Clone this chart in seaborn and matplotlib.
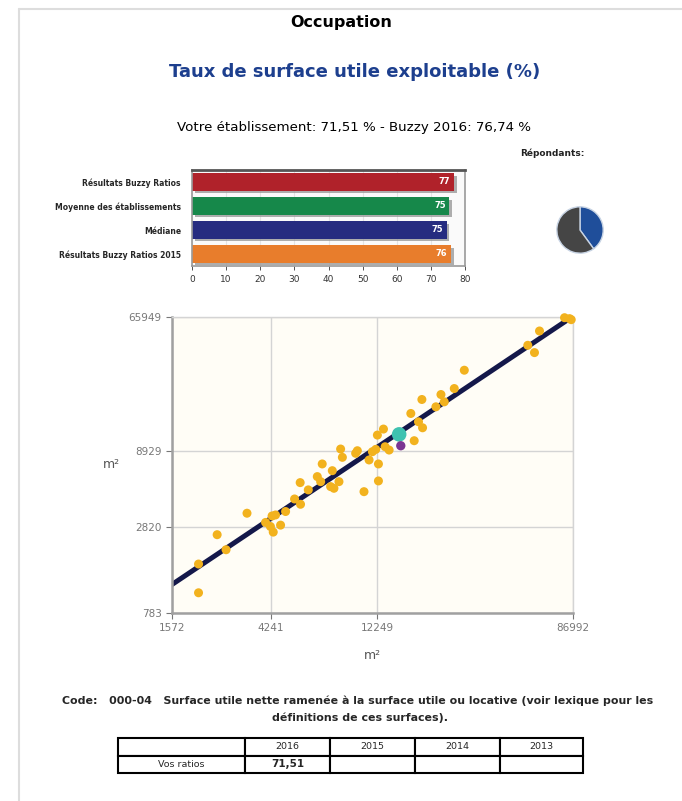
import matplotlib

matplotlib.use("Agg")
import matplotlib.patheffects as pe
import matplotlib.pyplot as plt
import numpy as np
import pandas as pd
import seaborn as sns
from matplotlib.lines import Line2D

# --- data ------------------------------------------------------------------
bar_labels = [
    "Résultats Buzzy Ratios",
    "Moyenne des établissements",
    "Médiane",
    "Résultats Buzzy Ratios 2015",
]
bar_values = [76.7, 75.4, 74.6, 75.9]
bar_value_labels = ["77", "75", "75", "76"]
bar_colors = ["#b0222a", "#16884a", "#262c80", "#e87d2c"]

pie_values = [40, 60]
pie_colors = ["#1f4e9a", "#454545"]

# surface utile ou locative (x) vs surface utile nette (y), m²
surface_locative = [
    2050, 2050, 2470, 2700, 3330, 4010, 4210, 4280, 4330, 4430,
    4660, 4900, 5360, 5670, 5690, 6150, 6730, 7070, 6960, 7690,
    7820, 7950, 8360, 8500, 8650, 9880, 10050, 10740, 11300, 11680,
    12080, 12280, 12410, 12410, 13050, 13270, 13810, 17160, 17750, 18530,
    19170, 19300, 22060, 23200, 23980, 26510, 29310, 55330, 59160, 62210,
    79930, 84040, 85450,
]
surface_utile = [
    1630, 1060, 2530, 2020, 3490, 3040, 2860, 3350, 2630, 3400,
    2920, 3580, 4320, 5520, 3990, 4950, 6040, 7300, 5600, 5200,
    6600, 5070, 5600, 9130, 8060, 8560, 8900, 4820, 7750, 8770,
    9080, 11250, 7300, 5660, 12310, 9450, 8990, 15550, 10340, 13730,
    19170, 12550, 17180, 20650, 18510, 22590, 29720, 43170, 38690, 53480,
    65260, 64340, 63370,
]
votre_x, votre_y = [15270], [11370]
other_x, other_y = [15520], [9590]
trend_x = [1572, 84000]
trend_y = [1200, 64400]

x_ticks = [1572, 4241, 12249, 86992]
y_ticks = [783, 2820, 8929, 65949]

table_header = ["", "2016", "2015", "2014", "2013"]
table_row = ["Vos ratios", "71,51", "", "", ""]

W, H = 682, 801


def fig_rect(left, top, right, bottom):
    # pixel box -> figure fraction rect
    return [left / W, 1 - bottom / H, (right - left) / W, (bottom - top) / H]


sns.set_theme(style="white")
plt.rcParams["font.family"] = ["DejaVu Sans"]

fig = plt.figure(figsize=(W / 100, H / 100), dpi=100)
fig.patch.set_facecolor("white")

# page frame
fig.add_artist(Line2D([19 / W, 19 / W], [0, 1 - 9 / H], color="#dddddd", lw=1.5))
fig.add_artist(Line2D([19 / W, 1], [1 - 9 / H, 1 - 9 / H], color="#dddddd", lw=1.5))

fig.text(341 / W, 1 - 23 / H, "Occupation", ha="center", va="center",
         fontsize=11.5, fontweight="bold", color="black")
fig.text(355 / W, 1 - 72 / H, "Taux de surface utile exploitable (%)",
         ha="center", va="center", fontsize=13, fontweight="bold", color="#1d3f8e")
fig.text(354 / W, 1 - 127 / H,
         "Votre établissement: 71,51 % - Buzzy 2016: 76,74 %",
         ha="center", va="center", fontsize=9.6, color="black")
fig.text(552 / W, 1 - 153 / H, "Répondants:", ha="center", va="center",
         fontsize=6.5, fontweight="bold", color="#222222")

# --- bar chart --------------------------------------------------------------
ax_bar = fig.add_axes(fig_rect(192, 170, 465, 266))
df_bar = pd.DataFrame({"label": bar_labels, "value": bar_values})
sns.barplot(data=df_bar, x="value", y="label", hue="label", palette=bar_colors,
            legend=False, orient="h", width=0.72, ax=ax_bar,
            edgecolor="none", saturation=1)
for patch in ax_bar.patches:
    patch.set_path_effects([
        pe.SimplePatchShadow(offset=(2, -2), shadow_rgbFace="#9a9a9a", alpha=0.8),
        pe.Normal(),
    ])
for container, lab in zip(ax_bar.containers, bar_value_labels):
    ax_bar.bar_label(container, labels=[lab], padding=-11, color="white",
                     fontsize=6, fontweight="bold")
ax_bar.set_xlim(0, 80)
ax_bar.set_xticks(np.arange(0, 81, 10))
ax_bar.set_xlabel("")
ax_bar.set_ylabel("")
ax_bar.xaxis.grid(True, color="#e4e4e4", lw=0.8)
ax_bar.set_axisbelow(True)
ax_bar.set_facecolor("#fafafa")
ax_bar.tick_params(axis="x", labelsize=6.5, colors="#333333", length=3, width=0.6,
                   direction="out", bottom=True)
ax_bar.tick_params(axis="y", labelsize=5.5, length=0, pad=8)
for lbl in ax_bar.get_yticklabels():
    lbl.set_fontweight("bold")
for side in ["left", "right", "bottom"]:
    ax_bar.spines[side].set_color("#9a9a9a")
    ax_bar.spines[side].set_linewidth(1.2)
ax_bar.spines["top"].set_color("#555555")
ax_bar.spines["top"].set_linewidth(2)

# --- respondents pie --------------------------------------------------------
ax_pie = fig.add_axes(fig_rect(551, 201, 609, 259))
ax_pie.pie(pie_values, colors=pie_colors, startangle=90, counterclock=False,
           wedgeprops={"edgecolor": "#c8d4e4", "linewidth": 1})
ax_pie.set_aspect("equal")

# --- scatter ----------------------------------------------------------------
ax = fig.add_axes(fig_rect(172, 317, 573, 613))
ax.set_facecolor("#fffdf6")
ax.set_xscale("log")
ax.set_yscale("log")
sns.lineplot(x=trend_x, y=trend_y, ax=ax, color="#14184a", lw=3.6,
             solid_capstyle="round", zorder=2)
sns.scatterplot(x=surface_locative, y=surface_utile, ax=ax, color="#f2b21e",
                s=42, edgecolor="none", zorder=3, clip_on=False)
sns.scatterplot(x=votre_x, y=votre_y, ax=ax, color="#3fc2b0", s=110,
                edgecolor="none", zorder=4)
sns.scatterplot(x=other_x, y=other_y, ax=ax, color="#7a3592", s=45,
                edgecolor="none", zorder=4)
ax.set_xlim(x_ticks[0], x_ticks[-1])
ax.set_ylim(y_ticks[0], y_ticks[-1])
ax.minorticks_off()
ax.set_xticks(x_ticks)
ax.set_xticklabels([str(v) for v in x_ticks])
ax.set_yticks(y_ticks)
ax.set_yticklabels([str(v) for v in y_ticks])
ax.grid(True, color="#d4d4d4", lw=1)
ax.set_axisbelow(True)
ax.tick_params(axis="both", labelsize=7.5, colors="#777777", length=4,
               width=0.8, direction="out", left=True, bottom=True)
for side in ["left", "bottom"]:
    ax.spines[side].set_color("#a0a0a0")
    ax.spines[side].set_linewidth(1.8)
for side in ["top", "right"]:
    ax.spines[side].set_color("#d4d4d4")
    ax.spines[side].set_linewidth(1)
ax.set_xlabel("m²", fontsize=9, color="#555555", labelpad=11)
ax.set_ylabel("m²", fontsize=9, color="#555555", rotation=0, labelpad=6,
              va="center", ha="right")

# --- footer -----------------------------------------------------------------
fig.text(358 / W, 1 - 701 / H,
         "Code:   000-04   Surface utile nette ramenée à la surface utile ou locative (voir lexique pour les",
         ha="center", va="center", fontsize=7.9, fontweight="bold")
fig.text(360 / W, 1 - 718 / H, "définitions de ces surfaces).",
         ha="center", va="center", fontsize=7.9, fontweight="bold")

ax_tab = fig.add_axes(fig_rect(118, 738, 583, 773))
ax_tab.axis("off")
col_px = [127, 85, 85, 85, 83]
tab = ax_tab.table(cellText=[table_header, table_row], cellLoc="center",
                   colWidths=[c / sum(col_px) for c in col_px],
                   bbox=[0, 0, 1, 1])
tab.auto_set_font_size(False)
for (r, c), cell in tab.get_celld().items():
    cell.set_linewidth(1.5)
    cell.set_edgecolor("black")
    cell.get_text().set_fontsize(6.8)
    if r == 1 and c == 1:
        cell.get_text().set_fontweight("bold")
        cell.get_text().set_fontsize(7.5)

fig.savefig("out.png", dpi=100)
